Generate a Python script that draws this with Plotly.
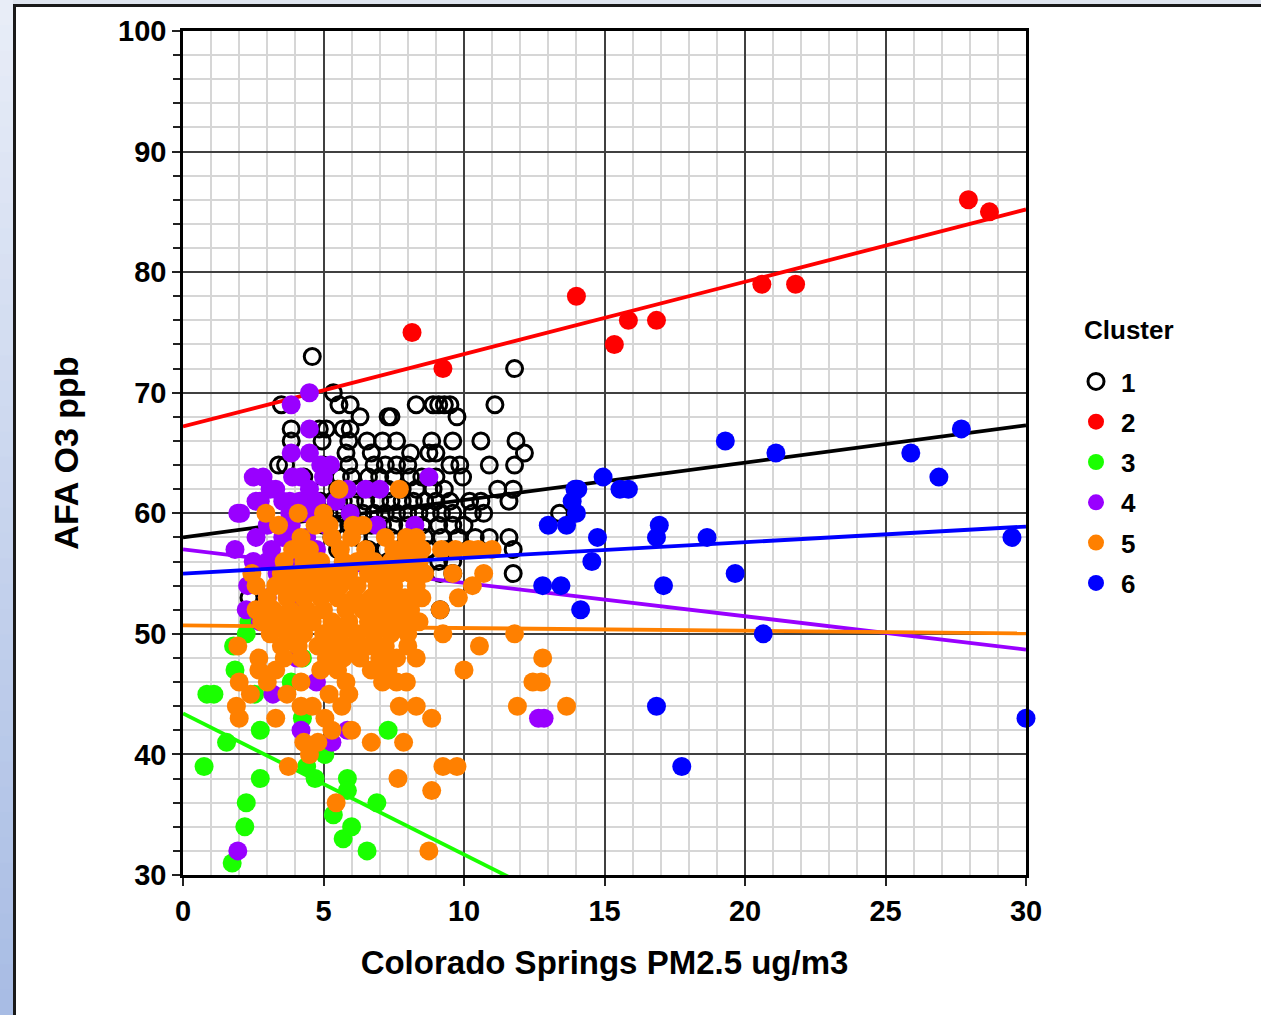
import plotly.graph_objects as go

# ---------------- data ----------------
x_range = [0, 30]
y_range = [30, 100]
x_ticks = [0, 5, 10, 15, 20, 25, 30]
y_ticks = [30, 40, 50, 60, 70, 80, 90, 100]

cluster_names = ["1", "2", "3", "4", "5", "6"]
cluster_colors = ["#000000", "#ff0000", "#1aff00", "#9900ff", "#ff8000", "#0000ff"]

# linear fit lines (intercept at x=0, slope)
fit_intercepts = [58.0, 67.2, 43.4, 57.0, 50.7, 55.0]
fit_slopes = [0.31, 0.60, -1.17, -0.277, -0.022, 0.13]

# cluster 1 (open black circles): O3 levels and the PM2.5 values at each level
c1_levels = [73, 72, 70, 69, 68, 67, 66, 65, 64, 63, 62, 61, 60, 59, 58, 57, 56, 55, 53, 52]
c1_pm = [
    [4.6],
    [11.8],
    [5.35],
    [3.5, 5.55, 5.95, 8.3, 8.9, 9.1, 9.3, 9.5, 11.1],
    [6.3, 7.3, 7.4, 9.75],
    [3.85, 4.85, 5.1, 5.7, 5.95],
    [3.85, 4.95, 5.9, 6.55, 7.1, 7.6, 8.85, 9.6, 10.6, 11.85],
    [5.8, 6.7, 8.1, 8.75, 9.0, 12.15],
    [3.4, 3.65, 5.0, 5.9, 6.8, 7.2, 7.6, 8.0, 9.5, 9.85, 10.9, 11.8],
    [4.3, 5.6, 6.0, 6.6, 7.0, 7.5, 8.1, 8.5, 9.0, 9.95],
    [5.0, 5.5, 6.2, 6.7, 7.3, 7.8, 8.3, 8.9, 9.3, 11.2, 11.75, 14.0],
    [4.9, 5.3, 5.7, 6.1, 6.5, 7.0, 7.4, 7.8, 8.2, 8.6, 9.0, 9.5, 10.2, 10.6, 11.6],
    [4.8, 5.2, 5.6, 6.0, 6.4, 6.8, 7.2, 7.6, 8.0, 8.4, 8.8, 9.2, 9.6, 10.3, 10.7, 13.4],
    [5.0, 5.4, 5.9, 6.3, 6.7, 7.1, 7.5, 8.0, 8.5, 9.1, 9.6, 10.0],
    [5.3, 5.8, 6.2, 6.8, 7.4, 8.0, 8.6, 9.2, 9.8, 10.4, 10.9, 11.6],
    [5.5, 6.0, 6.6, 7.2, 7.9, 8.7, 9.4, 11.75],
    [6.5, 7.3, 8.4, 9.1, 9.6],
    [9.15, 9.6, 11.75],
    [2.35],
    [9.15],
]

# cluster 2 (red)
c2_pm = [8.15, 9.25, 14.0, 15.35, 15.85, 16.85, 20.6, 21.8, 27.95, 28.7]
c2_o3 = [75, 72, 78, 74, 76, 76, 79, 79, 86, 85]

# cluster 3 (green)
c3_pm = [0.75, 0.85, 1.1, 1.55, 1.8, 1.85, 1.75, 2.2, 2.25, 2.25, 2.35, 2.55, 2.75, 2.75,
         3.85, 4.25, 4.25, 4.4, 4.7, 5.05, 5.35, 5.7, 5.85, 5.85, 6.0, 6.55, 6.9, 7.3]
c3_o3 = [39, 45, 45, 41, 49, 47, 31, 34, 36, 50, 51, 45, 38, 42,
         46, 43, 48, 39, 38, 40, 35, 33, 38, 37, 34, 32, 36, 42]

# cluster 4 (purple)
c4_levels = [70, 69, 67, 65, 64, 63, 62, 61, 60, 59, 58, 57, 56, 55, 54, 53, 52, 51, 48, 46, 45, 43, 42, 41, 32]
c4_pm = [
    [4.5],
    [3.85],
    [4.5],
    [3.85, 4.5],
    [4.9, 5.25],
    [2.5, 2.85, 3.9, 4.2, 5.0, 8.75],
    [3.1, 3.3, 4.5, 5.85, 6.5, 7.0],
    [2.6, 2.75, 3.55, 3.8, 4.15, 4.75, 5.45],
    [1.95, 2.05, 3.8, 4.4, 5.95],
    [3.0, 3.85, 5.1, 6.9, 8.25],
    [2.6, 3.55, 3.8, 4.4],
    [1.85, 3.15, 4.75],
    [2.5, 3.0, 3.1, 3.8, 4.15],
    [3.35],
    [2.3, 3.6, 4.6],
    [3.0, 4.0],
    [2.25],
    [2.75],
    [4.05],
    [4.75],
    [3.2],
    [12.65, 12.85],
    [4.2, 5.85],
    [5.3],
    [1.95],
]

# cluster 5 (orange)
c5_levels = [62, 60, 59, 58, 57, 56, 55, 54, 53, 52, 51, 50, 49, 48, 47, 46, 45, 44, 43, 42, 41, 40, 39, 38, 37, 36, 32]
c5_pm = [
    [5.55, 7.7],
    [2.95, 4.1, 5.0],
    [3.4, 4.7, 5.2, 6.05, 6.4],
    [4.2, 5.3, 6.0, 7.2, 7.95, 8.3],
    [3.9, 4.5, 5.6, 6.5, 7.5, 8.0, 8.5, 9.2, 9.7, 10.2, 10.5, 11.0],
    [3.6, 4.3, 4.9, 5.7, 6.2, 6.8, 7.4, 7.9, 8.4],
    [2.45, 3.5, 4.1, 4.7, 5.3, 5.9, 6.6, 7.1, 7.7, 8.1, 8.6, 9.6, 10.7],
    [2.6, 3.3, 3.9, 4.5, 5.1, 5.6, 6.2, 6.9, 7.5, 8.3, 10.3],
    [3.0, 3.7, 4.3, 4.9, 5.5, 6.1, 6.7, 7.3, 7.9, 8.5, 9.8],
    [2.6, 3.2, 3.8, 4.4, 5.0, 5.8, 6.4, 7.0, 7.6, 8.1, 9.15],
    [2.8, 3.4, 4.0, 4.6, 5.3, 5.9, 6.6, 7.2, 7.8, 8.4],
    [3.1, 3.7, 4.3, 5.0, 5.6, 6.2, 6.8, 7.4, 8.0, 9.25, 11.8],
    [1.95, 3.5, 4.1, 4.8, 5.4, 6.0, 6.6, 7.2, 8.0, 10.55],
    [2.7, 3.6, 4.2, 5.1, 5.7, 6.3, 7.0, 7.6, 8.3, 12.8],
    [2.7, 3.3, 4.9, 5.5, 6.7, 7.3, 10.0],
    [2.0, 3.0, 4.2, 5.8, 7.1, 7.6, 7.95, 12.45, 12.75],
    [2.4, 3.7, 5.2, 5.9],
    [1.9, 4.2, 4.6, 5.65, 7.7, 8.3, 11.9, 13.65],
    [2.0, 3.3, 5.05, 8.85],
    [5.3, 6.0],
    [4.3, 4.8, 6.7, 7.85],
    [4.5],
    [3.75, 9.25, 9.75],
    [7.65],
    [8.85],
    [5.45],
    [8.75],
]

# cluster 6 (blue)
c6_pm = [19.3, 21.1, 25.9, 26.9, 27.7, 14.95, 13.95, 14.05, 15.55, 15.85, 13.85, 14.0, 13.0,
         13.65, 14.75, 16.95, 16.85, 18.65, 14.55, 19.65, 12.8, 13.45, 17.1, 14.15, 20.65,
         16.85, 17.75, 29.5, 30.0]
c6_o3 = [66, 65, 65, 63, 67, 63, 62, 62, 62, 62, 61, 60, 59,
         59, 58, 59, 58, 58, 56, 55, 54, 54, 54, 52, 50,
         44, 39, 58, 43]


def flatten(levels, rows):
    xs, ys = [], []
    for lv, row in zip(levels, rows):
        for v in row:
            xs.append(v)
            ys.append(lv)
    return xs, ys


c1_pm_flat, c1_o3 = flatten(c1_levels, c1_pm)
c4_pm_flat, c4_o3 = flatten(c4_levels, c4_pm)
c5_pm_flat, c5_o3 = flatten(c5_levels, c5_pm)

series = [
    (c1_pm_flat, c1_o3),
    (c2_pm, c2_o3),
    (c3_pm, c3_o3),
    (c4_pm_flat, c4_o3),
    (c5_pm_flat, c5_o3),
    (c6_pm, c6_o3),
]

# ---------------- figure ----------------
FONT = "Liberation Sans, Arial, sans-serif"
W, H = 1261, 1015
ML, MR, MT, MB = 183, 235, 31, 140
PW, PH = W - ML - MR, H - MT - MB

fig = go.Figure()

for i, (name, color) in enumerate(zip(cluster_names, cluster_colors)):
    xs, ys = series[i]
    if i == 0:
        marker = dict(symbol="circle", size=16, color="rgba(0,0,0,0)",
                      line=dict(color=color, width=3))
    else:
        marker = dict(symbol="circle", size=19, color=color, line=dict(width=0))
    fig.add_trace(go.Scatter(
        x=xs, y=ys, mode="markers", name=name, marker=marker,
        legendgroup=name, cliponaxis=False,
    ))
    lx = [x_range[0], x_range[1]]
    ly = [fit_intercepts[i] + fit_slopes[i] * v for v in lx]
    fig.add_trace(go.Scatter(
        x=lx, y=ly, mode="lines", line=dict(color=color, width=3.8),
        showlegend=False, hoverinfo="skip", legendgroup=name,
    ))


def px2x(px):
    return (px - ML) / PW


def py2y(py):
    return (H - MB - py) / PH


shapes = []
# left gradient strip (slide background)
n = 40
top_c = (232, 237, 247)
bot_c = (168, 188, 228)
for k in range(n):
    t = k / (n - 1)
    c = tuple(int(round(top_c[j] + (bot_c[j] - top_c[j]) * t)) for j in range(3))
    y0 = k * H / n
    y1 = (k + 1) * H / n + 1
    shapes.append(dict(type="rect", xref="paper", yref="paper",
                       x0=px2x(0), x1=px2x(13), y0=py2y(y1), y1=py2y(y0),
                       fillcolor="rgb(%d,%d,%d)" % c, line=dict(width=0), layer="below"))
# top strip
shapes.append(dict(type="rect", xref="paper", yref="paper",
                   x0=px2x(13), x1=px2x(W), y0=py2y(4), y1=py2y(0),
                   fillcolor="#dfe5ef", line=dict(width=0), layer="below"))
# dark frame
shapes.append(dict(type="line", xref="paper", yref="paper",
                   x0=px2x(14.5), x1=px2x(14.5), y0=py2y(H), y1=py2y(4),
                   line=dict(color="#1a1a1a", width=3)))
shapes.append(dict(type="line", xref="paper", yref="paper",
                   x0=px2x(13), x1=px2x(W), y0=py2y(5.5), y1=py2y(5.5),
                   line=dict(color="#1a1a1a", width=3)))

axis_common = dict(
    showgrid=True, gridcolor="#404040", gridwidth=1.6,
    showline=True, linecolor="black", linewidth=2.5, mirror=True,
    ticks="outside", ticklen=8, tickwidth=2, tickcolor="#222222",
    tickfont=dict(family=FONT, size=29, color="black", weight="bold"),
    zeroline=False,
)

fig.update_layout(
    width=W, height=H,
    margin=dict(l=ML, r=MR, t=MT, b=MB, autoexpand=False),
    paper_bgcolor="white", plot_bgcolor="white",
    font=dict(family=FONT, color="black"),
    xaxis=dict(
        range=x_range, tickvals=x_ticks,
        minor=dict(dtick=1, showgrid=True, gridcolor="#d6d6d6", gridwidth=1.8, ticks=""),
        title=dict(text="Colorado Springs PM2.5 ug/m3", standoff=26,
                   font=dict(family=FONT, size=33, color="black", weight="bold")),
        **axis_common,
    ),
    yaxis=dict(
        range=y_range, tickvals=y_ticks,
        minor=dict(dtick=2, showgrid=True, gridcolor="#d6d6d6", gridwidth=1.8,
                   ticks="outside", ticklen=7, tickwidth=2, tickcolor="#222222"),
        title=dict(text="AFA O3 ppb", standoff=30,
                   font=dict(family=FONT, size=34, color="black", weight="bold")),
        **axis_common,
    ),
    legend=dict(
        x=px2x(1071), y=py2y(358), xanchor="left", yanchor="top",
        font=dict(family=FONT, size=26, color="black", weight="bold"),
        traceorder="grouped", tracegroupgap=3.5,
        bgcolor="rgba(0,0,0,0)", itemwidth=40,
    ),
    annotations=[dict(
        text="Cluster", xref="paper", yref="paper", x=px2x(1082), y=py2y(330),
        xanchor="left", yanchor="middle", showarrow=False,
        font=dict(family=FONT, size=26, color="black", weight="bold"),
    )],
    shapes=shapes,
    showlegend=True,
)

fig.write_html("out.html")
